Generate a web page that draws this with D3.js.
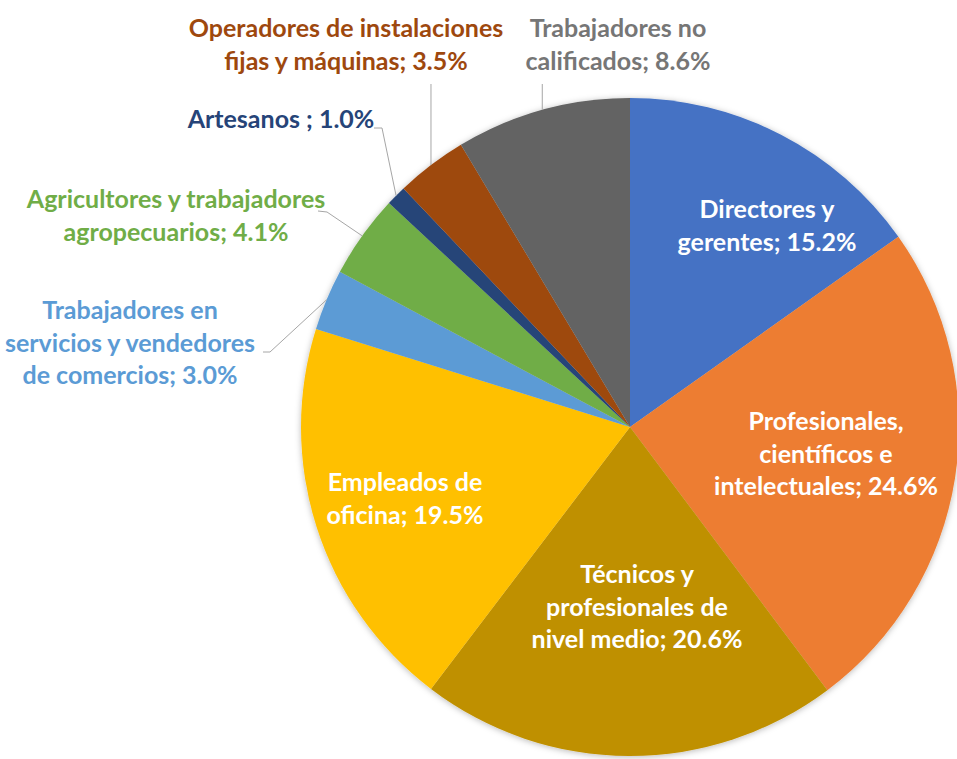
<!DOCTYPE html>
<html>
<head>
<meta charset="utf-8">
<script src="https://cdn.jsdelivr.net/npm/d3@7"></script>
<style>
  html, body { margin: 0; padding: 0; background: #ffffff; }
  svg { display: block; }
</style>
</head>
<body>
<svg id="chart" width="957" height="759"></svg>
<script>
// ---- data ----
const categories = [
  "Directores y gerentes",
  "Profesionales, científicos e intelectuales",
  "Técnicos y profesionales de nivel medio",
  "Empleados de oficina",
  "Trabajadores en servicios y vendedores de comercios",
  "Agricultores y trabajadores agropecuarios",
  "Artesanos ",
  "Operadores de instalaciones fijas y máquinas",
  "Trabajadores no calificados"
];
const values = [15.2, 24.6, 20.6, 19.5, 3.0, 4.1, 1.0, 3.5, 8.6];
// label text lines (as wrapped in the original)
const labelLines = [
  ["Directores y", "gerentes; 15.2%"],
  ["Profesionales,", "científicos e", "intelectuales; 24.6%"],
  ["Técnicos y", "profesionales de", "nivel medio; 20.6%"],
  ["Empleados de", "oficina; 19.5%"],
  ["Trabajadores en", "servicios y vendedores", "de comercios; 3.0%"],
  ["Agricultores y trabajadores", "agropecuarios; 4.1%"],
  ["Artesanos ; 1.0%"],
  ["Operadores de instalaciones", "fijas y máquinas; 3.5%"],
  ["Trabajadores no", "calificados; 8.6%"]
];

// ---- styles / layout ----
const colors = ["#4472C4", "#ED7D31", "#BF9000", "#FFC000", "#5B9BD5", "#70AD47", "#264478", "#9E480E", "#636363"];
const labelColors = ["#ffffff", "#ffffff", "#ffffff", "#ffffff", "#5B9BD5", "#70AD47", "#264478", "#9E480E", "#767676"];
// label block centres (first-line baseline), relative to page
const labelAnchor = [
  [767, 218], [826, 430], [637, 583], [405, 491],
  [130, 319], [176, 208], [281, 128], [346, 37], [618, 37]
];
// leader line: [x, y] start near the text, optional elbow
const leaderStart = [
  null, null, null, null,
  [[263, 352], [270, 352]],
  [[318, 211], [327, 212]],
  [[374, 128], [382, 128]],
  [[433, 84]],
  [[544, 84]]
];
const cx = 630, cy = 427, R = 329;
const fontSize = 25, lineH = 32.5;

const svg = d3.select("#chart");
const defs = svg.append("defs");
const f = defs.append("filter").attr("id", "sh").attr("x", "-10%").attr("y", "-10%").attr("width", "120%").attr("height", "120%");
f.append("feDropShadow").attr("dx", 0).attr("dy", 1).attr("stdDeviation", 3).attr("flood-color", "#000").attr("flood-opacity", 0.28);

const pie = d3.pie().sort(null).value(d => d)
  .startAngle(0).endAngle(2 * Math.PI);
const arcs = pie(values);
const arc = d3.arc().innerRadius(0).outerRadius(R);
const rimArc = d3.arc().innerRadius(R).outerRadius(R);

const g = svg.append("g").attr("transform", `translate(${cx},${cy})`);
g.append("g").attr("filter", "url(#sh)")
  .selectAll("path").data(arcs).join("path")
  .attr("d", arc)
  .attr("fill", (d, i) => colors[i]);

// leader lines
arcs.forEach((d, i) => {
  if (!leaderStart[i]) return;
  const rim = rimArc.centroid(d);
  const pts = leaderStart[i].map(p => [p[0] - cx, p[1] - cy]);
  if (pts.length === 1) pts[0][0] = rim[0];
  pts.push(rim);
  g.append("path")
    .attr("d", d3.line()(pts))
    .attr("fill", "none")
    .attr("stroke", "#A6A6A6")
    .attr("stroke-width", 1);
});

// labels
const lab = svg.append("g")
  .attr("font-family", "Lato, 'Open Sans', sans-serif")
  .attr("font-weight", 700)
  .attr("font-size", fontSize)
  .attr("text-anchor", "middle");
labelLines.forEach((lines, i) => {
  const t = lab.append("text")
    .attr("x", labelAnchor[i][0])
    .attr("y", labelAnchor[i][1])
    .attr("fill", labelColors[i]);
  lines.forEach((s, j) => {
    t.append("tspan").attr("x", labelAnchor[i][0]).attr("dy", j === 0 ? 0 : lineH).text(s);
  });
});
</script>
</body>
</html>
